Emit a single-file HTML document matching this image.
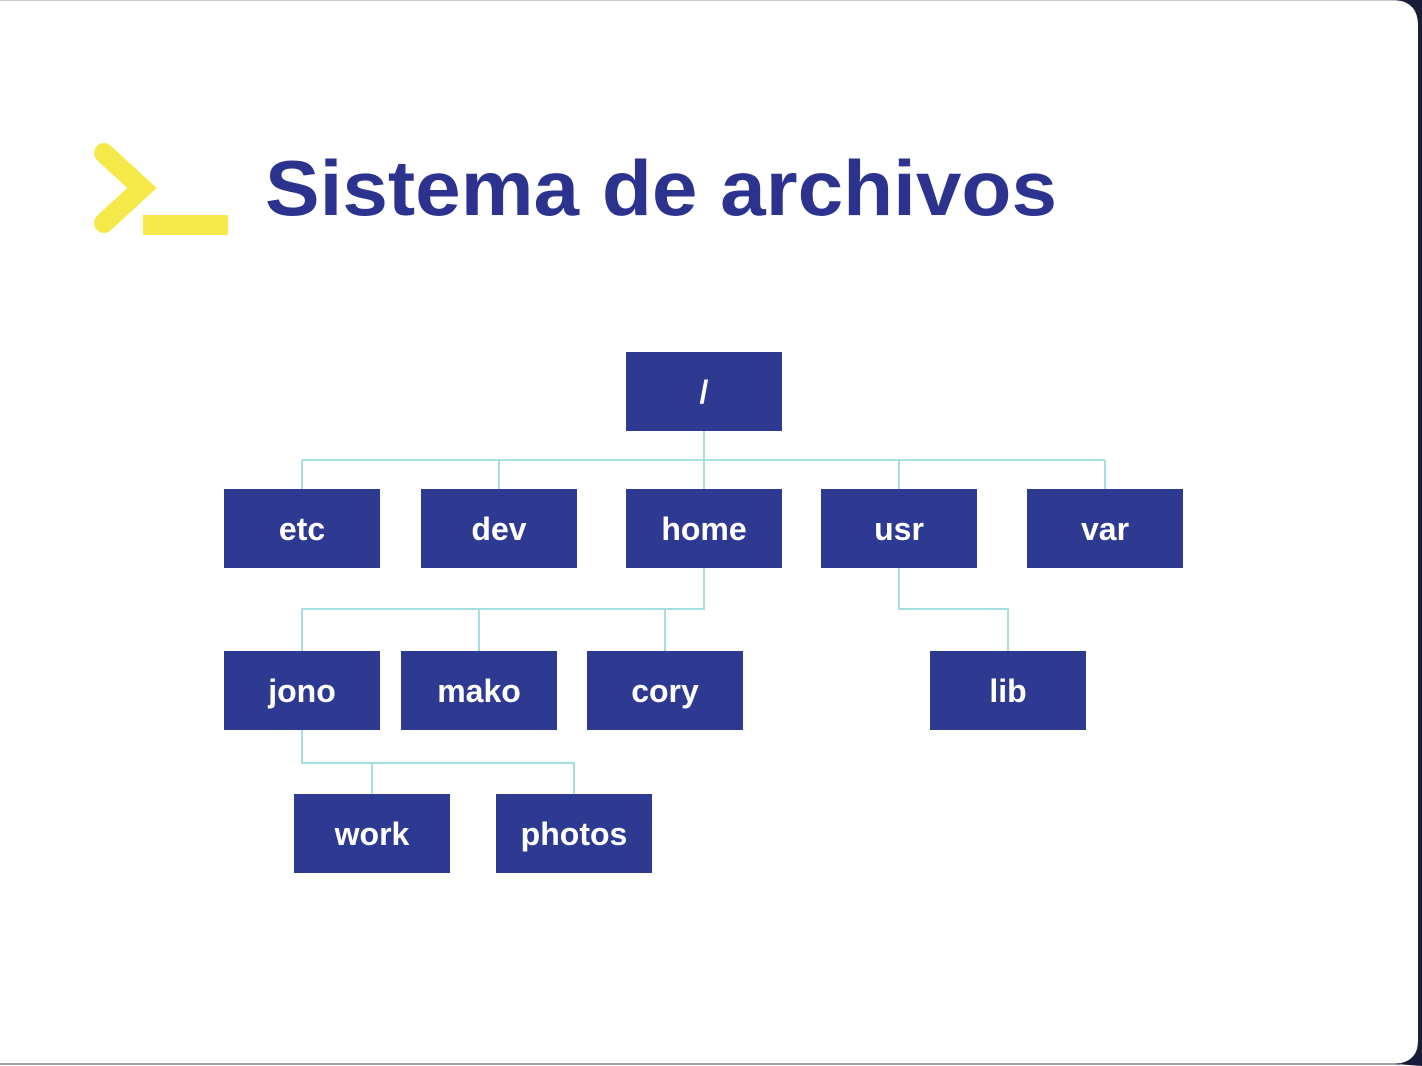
<!DOCTYPE html>
<html><head><meta charset="utf-8"><style>
html,body{margin:0;padding:0;background:#fff;}
svg{display:block;}
</style></head><body>
<svg width="1422" height="1066" viewBox="0 0 1422 1066" xmlns="http://www.w3.org/2000/svg">
<rect x="0" y="0" width="1422" height="1066" fill="#fff"/>
<line x1="0" y1="0.5" x2="1400" y2="0.5" stroke="#c8c8d0" stroke-width="1"/>
<line x1="0" y1="1064" x2="1400" y2="1064" stroke="#a0a0a8" stroke-width="2"/>
<path d="M1395 0 Q1418 2 1418 25 L1418 1041 Q1418 1062 1395 1064 L1422 1066 L1422 0 Z" fill="#1a1d3a"/>
<polyline points="104,153 142,188 104,223" fill="none" stroke="#f5e94a" stroke-width="20" stroke-linecap="round" stroke-linejoin="miter"/>
<rect x="143" y="215" width="85" height="20" fill="#f5e94a"/>
<text x="265" y="215" font-family="Liberation Sans, sans-serif" font-weight="bold" font-size="78" fill="#2b338f" textLength="792" lengthAdjust="spacingAndGlyphs">Sistema de archivos</text>
<g stroke="#a6dfe0" stroke-width="2" fill="none">
<line x1="704" y1="431" x2="704" y2="489"/>
<line x1="302" y1="460" x2="1105" y2="460"/>
<line x1="302" y1="460" x2="302" y2="489"/>
<line x1="499" y1="460" x2="499" y2="489"/>
<line x1="899" y1="460" x2="899" y2="489"/>
<line x1="1105" y1="460" x2="1105" y2="489"/>
<polyline points="704,568 704,609 302,609 302,651"/>
<line x1="479" y1="609" x2="479" y2="651"/>
<line x1="665" y1="609" x2="665" y2="651"/>
<polyline points="899,568 899,609 1008,609 1008,651"/>
<polyline points="302,730 302,763 574,763 574,794"/>
<line x1="372" y1="763" x2="372" y2="794"/>
</g>
<g fill="#2e3a91">
<rect x="626" y="352" width="156" height="79"/>
<rect x="224" y="489" width="156" height="79"/>
<rect x="421" y="489" width="156" height="79"/>
<rect x="626" y="489" width="156" height="79"/>
<rect x="821" y="489" width="156" height="79"/>
<rect x="1027" y="489" width="156" height="79"/>
<rect x="224" y="651" width="156" height="79"/>
<rect x="401" y="651" width="156" height="79"/>
<rect x="587" y="651" width="156" height="79"/>
<rect x="930" y="651" width="156" height="79"/>
<rect x="294" y="794" width="156" height="79"/>
<rect x="496" y="794" width="156" height="79"/>
</g>
<g fill="#fff" font-family="Liberation Sans, sans-serif" font-weight="bold" font-size="32" text-anchor="middle">
<text x="704" y="403">/</text>
<text x="302" y="540">etc</text>
<text x="499" y="540">dev</text>
<text x="704" y="540">home</text>
<text x="899" y="540">usr</text>
<text x="1105" y="540">var</text>
<text x="302" y="702">jono</text>
<text x="479" y="702">mako</text>
<text x="665" y="702">cory</text>
<text x="1008" y="702">lib</text>
<text x="372" y="845">work</text>
<text x="574" y="845">photos</text>
</g>
</svg>
</body></html>
